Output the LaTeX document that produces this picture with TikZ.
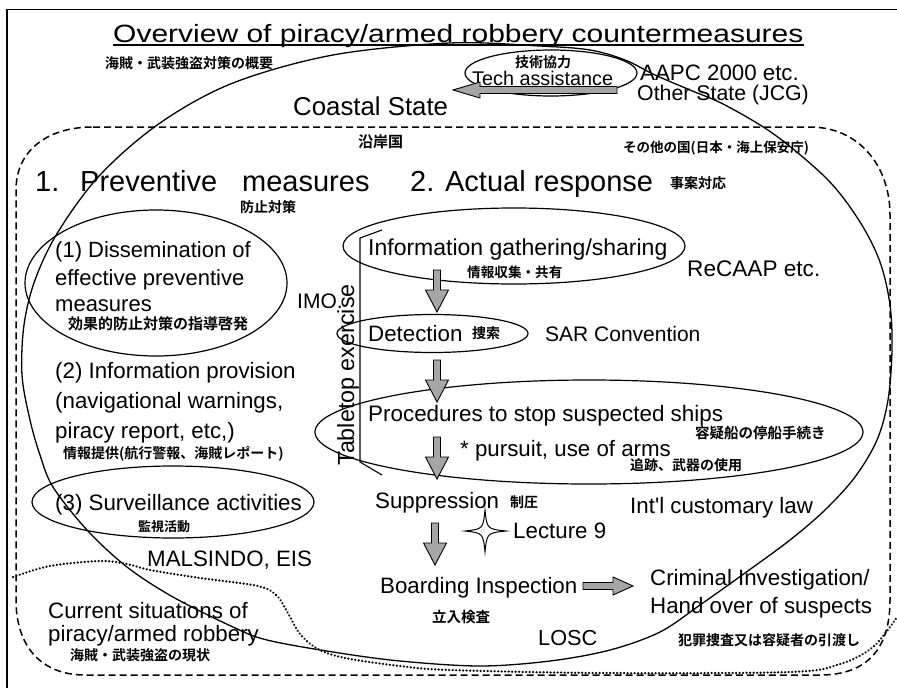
\documentclass[tikz,border=0pt]{standalone}
\usepackage{fontspec}
\newfontfamily\sans{Liberation Sans}
\newfontfamily\widesans{Liberation Sans}[FakeStretch=1.2]
\newfontfamily\jp{Noto Sans CJK JP}[BoldFont={* Bold}]
\newcommand{\fsz}[1]{\fontsize{#1}{#1}\selectfont}

\tikzset{
  en/.style={inner sep=0pt, anchor=base west, font=\sans\fsz{22.3}},
  ja/.style={inner sep=0pt, anchor=base west, font=\jp\bfseries\fsz{14}},
  ring/.style={line width=1.2pt},
  outline/.style={line width=1.5pt, dash pattern=on 7pt off 4pt},
  dotline/.style={line width=2.4pt, dash pattern=on 0.1pt off 3.4pt, line cap=round},
  arrfill/.style={draw=black, line width=0.9pt, fill=gray!70},
  pics/downarrow/.style={code={
    \filldraw[arrfill] (-3.5,0) -- (-3.5,20) -- (-11.5,20) -- (0,42)
      -- (11.5,20) -- (3.5,20) -- (3.5,0) -- cycle;}}
}

\begin{document}
\begin{tikzpicture}[x=1pt,y=-1pt]
\useasboundingbox (0,0) rectangle (897,688);
\fill[white] (0,0) rectangle (897,688);

% page frame
\draw[line width=1.6pt] (7,688) -- (7,9.5) -- (897,9.5);

% title
\node[en, font=\widesans\fsz{25}] (title) at (113,42) {Overview of piracy/armed robbery countermeasures};
\draw[line width=1.3pt] ([yshift=-3pt]title.base west) -- ([yshift=-3pt]title.base east);
\node[ja] (titleja) at (105,68) {海賊・武装強盗対策の概要};

% dashed region: coastal state
\draw[outline] (93,127) -- (810,127) .. controls (858,127) and (890,165) .. (890,215)
  -- (890,600) .. controls (890,650) and (866,675) .. (820,675) -- (85,675)
  .. controls (40,675) and (16,645) .. (16,600) -- (16,190)
  .. controls (16,150) and (48,127) .. (93,127) -- cycle;

% dotted region: current situations
\draw[dotline] plot[smooth, tension=0.55] coordinates {(13,577) (50,566) (100,561) (127,564)
  (150,570) (200,578) (258,586) (277,596) (289,615) (300,634) (318,649) (345,658) (400,666)
  (450,670) (600,673) (790,672) (840,664) (873,647) (897,617)};

% large solid region
\draw[ring, line width=1.3pt] plot[smooth cycle, tension=0.55] coordinates {
  (100,175) (160,123) (233,83) (333,55) (450,43) (540,46) (590,50) (625,60) (655,75)
  (690,90) (725,105) (775,135) (828,180) (860,222) (880,262) (890,305) (892,350)
  (888,400) (877,440) (855,477) (825,510) (790,540) (745,573) (700,605) (660,632)
  (610,650) (550,661) (480,666) (400,661) (333,652) (267,640) (233,627) (173,597)
  (127,567) (87,530) (53,487) (40,455) (30,420) (22,375) (24,325) (35,280) (58,232)};

% technical assistance
\draw[ring] (551,73) ellipse (86 and 23);
\node[ja] (techja) at (515,67) {技術協力};
\node[en, font=\sans\fsz{19.8}] (tech) at (472,85) {Tech assistance};
\node[en] (aapc) at (640,80) {AAPC 2000 etc.};
\node[en, font=\sans\fsz{21.3}] (other) at (637,100) {Other State (JCG)};
\node[en, font=\sans\fsz{25.8}] (coastal) at (293,115) {Coastal State};
\coordinate (ta0) at (617,90);
\filldraw[arrfill] (ta0) ++(0,-3.5) -- ++(-137,0) -- ++(0,-4.5) -- ++(-27,8)
  -- ++(27,8) -- ++(0,-4.5) -- ++(137,0) -- cycle;
\node[ja, font=\jp\bfseries\fsz{15}] (coastalja) at (358,147) {沿岸国};
\node[ja, font=\jp\bfseries\fsz{13.5}] (otherja) at (623,152) {その他の国(日本・海上保安庁)};

% section headings
\node[en, font=\sans\fsz{29}] (h1n) at (35,191) {1.};
\node[en, font=\sans\fsz{29}] (h1a) at (80,191) {Preventive};
\node[en, font=\sans\fsz{29}] (h1b) at (242,191) {measures};
\node[ja] (h1ja) at (240,212) {防止対策};
\node[en, font=\sans\fsz{29}] (h2) at (410,191) {2. Actual response};
\node[ja] (h2ja) at (670,188) {事案対応};

% preventive measures
\draw[ring] (156,283) ellipse (131 and 73);
\node[en, font=\sans\fsz{22}] (p1a) at (55,257) {(1) Dissemination of};
\node[en, font=\sans\fsz{22}] (p1b) at (55,285) {effective preventive};
\node[en, font=\sans\fsz{22}] (p1c) at (55,311) {measures};
\node[ja, font=\jp\bfseries\fsz{15}] (p1ja) at (68,329) {効果的防止対策の指導啓発};
\node[en, font=\sans\fsz{21}] (imo) at (297,308) {IMO.};
\node[en] (p2a) at (55,378) {(2) Information provision};
\node[en] (p2b) at (55,408) {(navigational warnings,};
\node[en] (p2c) at (55,438) {piracy report, etc,)};
\node[ja] (p2ja) at (63,458) {情報提供(航行警報、海賊レポート)};
\draw[ring] (173,502) ellipse (141 and 36);
\node[en] (p3) at (55,510) {(3) Surveillance activities};
\node[ja, font=\jp\bfseries\fsz{13}] (p3ja) at (138,531) {監視活動};
\node[en] (mal) at (147,566) {MALSINDO, EIS};
\node[en] (cur1) at (48,618) {Current situations of};
\node[en] (cur2) at (48,641) {piracy/armed robbery};
\node[ja] (curja) at (70,660) {海賊・武装強盗の現状};

% tabletop exercise bracket
\coordinate (tt1) at (382,230);
\coordinate (tt2) at (360,238);
\coordinate (tt3) at (360,462);
\coordinate (tt4) at (382,475);
\draw[line width=1.1pt] (tt1) -- (tt2) -- (tt3) -- (tt4);
\node[inner sep=0pt, rotate=90, font=\sans\fsz{23.3}] (table) at (348,375) {Tabletop exercise};

% actual response chain
\draw[ring] (514,246) ellipse (171 and 38);
\node[en, font=\sans\fsz{23}] (info) at (368,255) {Information gathering/sharing};
\node[ja, font=\jp\bfseries\fsz{13.6}] (infoja) at (467,277) {情報収集・共有};
\node[en, font=\sans\fsz{22.6}] (recaap) at (687,276) {ReCAAP etc.};

\draw[ring] (432.5,333.5) ellipse (95.5 and 19);
\node[en] (det) at (368,341) {Detection};
\node[ja] (detja) at (472,338) {捜索};
\node[en, font=\sans\fsz{21}] (sar) at (545,341) {SAR Convention};

\draw[ring] (589,432) ellipse (274 and 52);
\node[en, font=\sans\fsz{22.4}] (proc) at (368,421) {Procedures to stop suspected ships};
\node[ja, font=\jp\bfseries\fsz{14.5}] (procja) at (695,438) {容疑船の停船手続き};
\node[en] (purs) at (460,456) {* pursuit, use of arms};
\node[ja] (pursja) at (630,470) {追跡、武器の使用};

\node[en] (supp) at (375,508) {Suppression};
\node[ja] (suppja) at (510,507) {制圧};
\node[en] (cust) at (630,513) {Int'l customary law};

\draw[line width=1pt, fill=white] (485,510) .. controls (487,529) .. (506,531)
  .. controls (487,533) .. (485,552) .. controls (483,533) .. (465,531)
  .. controls (483,529) .. (485,510) -- cycle;
\node[en] (lect) at (513,538) {Lecture 9};

\node[en] (board) at (380,593) {Boarding Inspection};
\node[ja, font=\jp\bfseries\fsz{14.5}] (boardja) at (432,622) {立入検査};
\node[en] (crim1) at (650,585) {Criminal Investigation/};
\node[en] (crim2) at (650,613) {Hand over of suspects};
\node[en, font=\sans\fsz{21.7}] (losc) at (538,645) {LOSC};
\node[ja] (crimja) at (678,645) {犯罪捜査又は容疑者の引渡し};

% flow arrows
\coordinate (d1) at (437,270);
\coordinate (d2) at (437,360);
\coordinate (d3) at (437,437);
\coordinate (d4) at (435,523);
\pic at (d1) {downarrow};
\pic at (d2) {downarrow};
\pic at (d3) {downarrow};
\pic at (d4) {downarrow};
\coordinate (ra) at (583,586);
\filldraw[arrfill] (ra) ++(0,-3.5) -- ++(30,0) -- ++(0,-5.5) -- ++(20,9)
  -- ++(-20,9) -- ++(0,-5.5) -- ++(-30,0) -- cycle;
\end{tikzpicture}
\end{document}
